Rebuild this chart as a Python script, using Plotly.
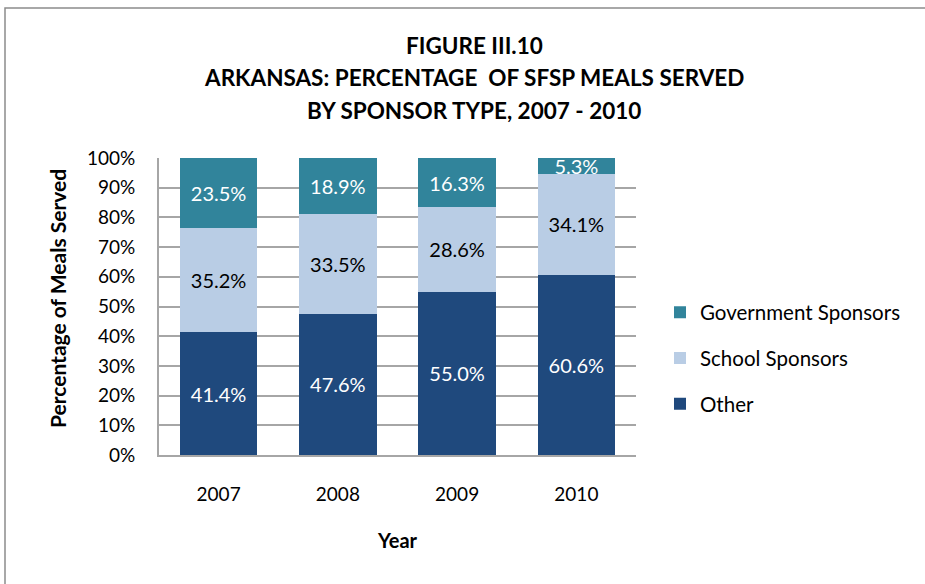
import plotly.graph_objects as go

# Share of SFSP meals served in Arkansas, by sponsor type (percent)
years = ["2007", "2008", "2009", "2010"]
other = [41.4, 47.6, 55.0, 60.6]
school = [35.2, 33.5, 28.6, 34.1]
government = [23.5, 18.9, 16.3, 5.3]

title_lines = [
    "FIGURE III.10",
    "ARKANSAS: PERCENTAGE  OF SFSP MEALS SERVED",
    "BY SPONSOR TYPE, 2007 - 2010",
]

FONT = "Lato"
C_OTHER = "#1F497D"
C_SCHOOL = "#B9CDE5"
C_GOV = "#31849B"
GRID = "#A6A6A6"

W, H = 925, 584
L, R, T, B = 159, 289, 158, 129
PW, PH = W - L - R, H - T - B


def px_x(x):
    return (x - L) / PW


def px_y(y):
    return (H - B - y) / PH


fig = go.Figure()

# stacked bottom-to-top; legend lists them top-to-bottom
series = [
    ("Other", other, C_OTHER, "white", 3),
    ("School Sponsors", school, C_SCHOOL, "black", 2),
    ("Government Sponsors", government, C_GOV, "white", 1),
]
for name, vals, color, tcolor, rank in series:
    fig.add_trace(go.Bar(
        name=name, x=years, y=vals, legendgroup=name, legendrank=rank,
        marker=dict(color=color, line=dict(width=0)),
        text=[f"{v:.1f}%" for v in vals],
        textposition="inside", insidetextanchor="middle",
        textfont=dict(family=FONT, size=20, color=tcolor),
        textangle=0, constraintext="none", cliponaxis=True,
    ))

# outer chart frame
fig.add_shape(type="rect", xref="paper", yref="paper",
              x0=px_x(5), x1=px_x(935), y0=px_y(595), y1=px_y(8),
              line=dict(color="#8C8C8C", width=1.5), layer="below")

# three-line heading
for text, yc in zip(title_lines, [45, 77, 110]):
    fig.add_annotation(
        text=text, xref="paper", yref="paper",
        x=px_x(474), y=px_y(yc), xanchor="center", yanchor="middle",
        showarrow=False,
        font=dict(family=FONT, size=22.5, color="black", weight="bold"),
    )

# value-axis title
fig.add_annotation(
    text="Percentage of Meals Served", xref="paper", yref="paper",
    x=px_x(57), y=px_y(299), xanchor="center", yanchor="middle",
    textangle=-90, showarrow=False,
    font=dict(family=FONT, size=21, color="black", weight="bold"),
)

fig.update_layout(
    width=W, height=H,
    barmode="stack", bargap=0.35,
    margin=dict(l=L, r=R, t=T, b=B),
    paper_bgcolor="white", plot_bgcolor="white",
    font=dict(family=FONT, color="black"),
    uniformtext=dict(minsize=20, mode="show"),
    showlegend=True,
    legend=dict(
        x=px_x(660), xanchor="left", y=px_y(358), yanchor="middle",
        traceorder="grouped", font=dict(family=FONT, size=20.5),
        tracegroupgap=16, itemwidth=30,
        bgcolor="rgba(0,0,0,0)",
    ),
    xaxis=dict(
        title=dict(text="Year", font=dict(family=FONT, size=20, weight="bold"), standoff=30),
        tickfont=dict(family=FONT, size=19), ticks="",
        showline=True, linecolor=GRID, linewidth=2,
        ticklabelstandoff=21,
    ),
    yaxis=dict(
        range=[0, 100], dtick=10, ticksuffix="%",
        tickfont=dict(family=FONT, size=19),
        showgrid=True, gridcolor=GRID, gridwidth=2,
        showline=True, linecolor=GRID, linewidth=2,
        zeroline=False, ticks="", ticklabelstandoff=18,
    ),
)

fig.write_html("out.html")
